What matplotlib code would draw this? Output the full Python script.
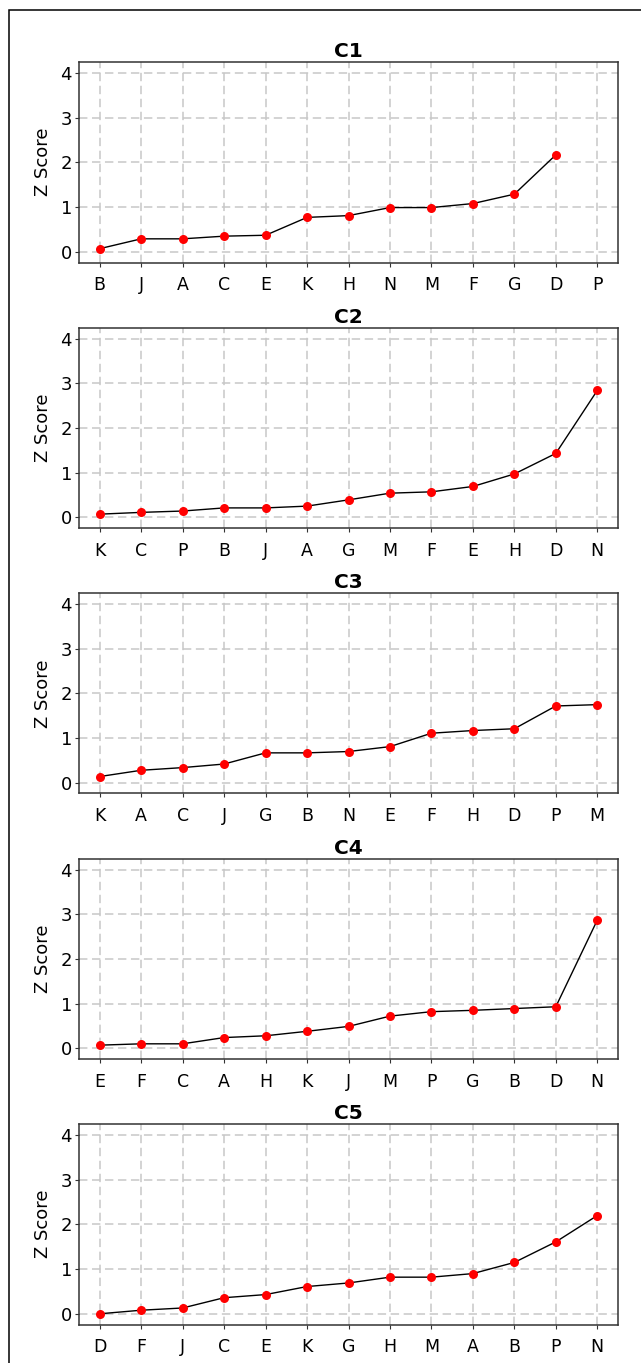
import numpy as np
import matplotlib.pyplot as plt
from matplotlib.patches import Rectangle

# panel titles
titles = ["C1", "C2", "C3", "C4", "C5"]

# category order per panel (sorted by z score)
labels_c1 = ["B", "J", "A", "C", "E", "K", "H", "N", "M", "F", "G", "D", "P"]
labels_c2 = ["K", "C", "P", "B", "J", "A", "G", "M", "F", "E", "H", "D", "N"]
labels_c3 = ["K", "A", "C", "J", "G", "B", "N", "E", "F", "H", "D", "P", "M"]
labels_c4 = ["E", "F", "C", "A", "H", "K", "J", "M", "P", "G", "B", "D", "N"]
labels_c5 = ["D", "F", "J", "C", "E", "K", "G", "H", "M", "A", "B", "P", "N"]

# z scores (P has no value in C1)
z_c1 = [0.07, 0.29, 0.29, 0.35, 0.37, 0.77, 0.81, 0.99, 0.99, 1.08, 1.29, 2.17, np.nan]
z_c2 = [0.07, 0.11, 0.14, 0.21, 0.21, 0.25, 0.39, 0.54, 0.57, 0.69, 0.97, 1.43, 2.84]
z_c3 = [0.14, 0.28, 0.34, 0.42, 0.67, 0.67, 0.70, 0.81, 1.11, 1.17, 1.21, 1.72, 1.75]
z_c4 = [0.07, 0.10, 0.10, 0.24, 0.28, 0.38, 0.49, 0.72, 0.82, 0.85, 0.89, 0.93, 2.87]
z_c5 = [0.00, 0.08, 0.13, 0.36, 0.43, 0.61, 0.69, 0.82, 0.82, 0.90, 1.15, 1.61, 2.20]

all_labels = [labels_c1, labels_c2, labels_c3, labels_c4, labels_c5]
all_z = [z_c1, z_c2, z_c3, z_c4, z_c5]

W, H = 641, 1363
fig = plt.figure(figsize=(W / 100, H / 100), dpi=100)

# outer frame (right and bottom edges fall outside the image)
fig.add_artist(Rectangle((8.5 / W, -0.01), 1.0, 1 - 9.5 / H + 0.01, transform=fig.transFigure,
                         fill=False, edgecolor="black", linewidth=1.1))

tops = [62, 327.5, 593, 858.5, 1124]
ax_h = 200.5
left, right = 79, 618

for top, title, labels, z in zip(tops, titles, all_labels, all_z):
    ax = fig.add_axes([left / W, 1 - (top + ax_h) / H, (right - left) / W, ax_h / H])
    x = np.arange(len(labels))
    ax.plot(x, z, color="black", linewidth=1.0, zorder=3)
    ax.plot(x, z, "o", color="red", markersize=6.5, markeredgewidth=0, zorder=4)

    ax.set_xlim(-0.5, len(labels) - 0.5)
    ax.set_ylim(-0.24, 4.25)
    ax.set_xticks(x)
    ax.set_xticklabels(labels)
    ax.set_yticks([0, 1, 2, 3, 4])
    ax.tick_params(axis="x", labelsize=12.5, length=3, pad=7, color="#333333")
    ax.tick_params(axis="y", labelsize=13, length=3, pad=2, color="#333333")
    ax.grid(True, color="#c8c8c8", linestyle=(0, (5.5, 3)), linewidth=1.1)
    ax.set_axisbelow(True)
    for s in ax.spines.values():
        s.set_color("#333333")
        s.set_linewidth(1.1)

    ax.set_ylabel("Z Score", fontsize=13, labelpad=6)
    ax.set_title(title, fontsize=14.5, fontweight="bold", pad=3.5)

plt.savefig("out.png", dpi=100)
